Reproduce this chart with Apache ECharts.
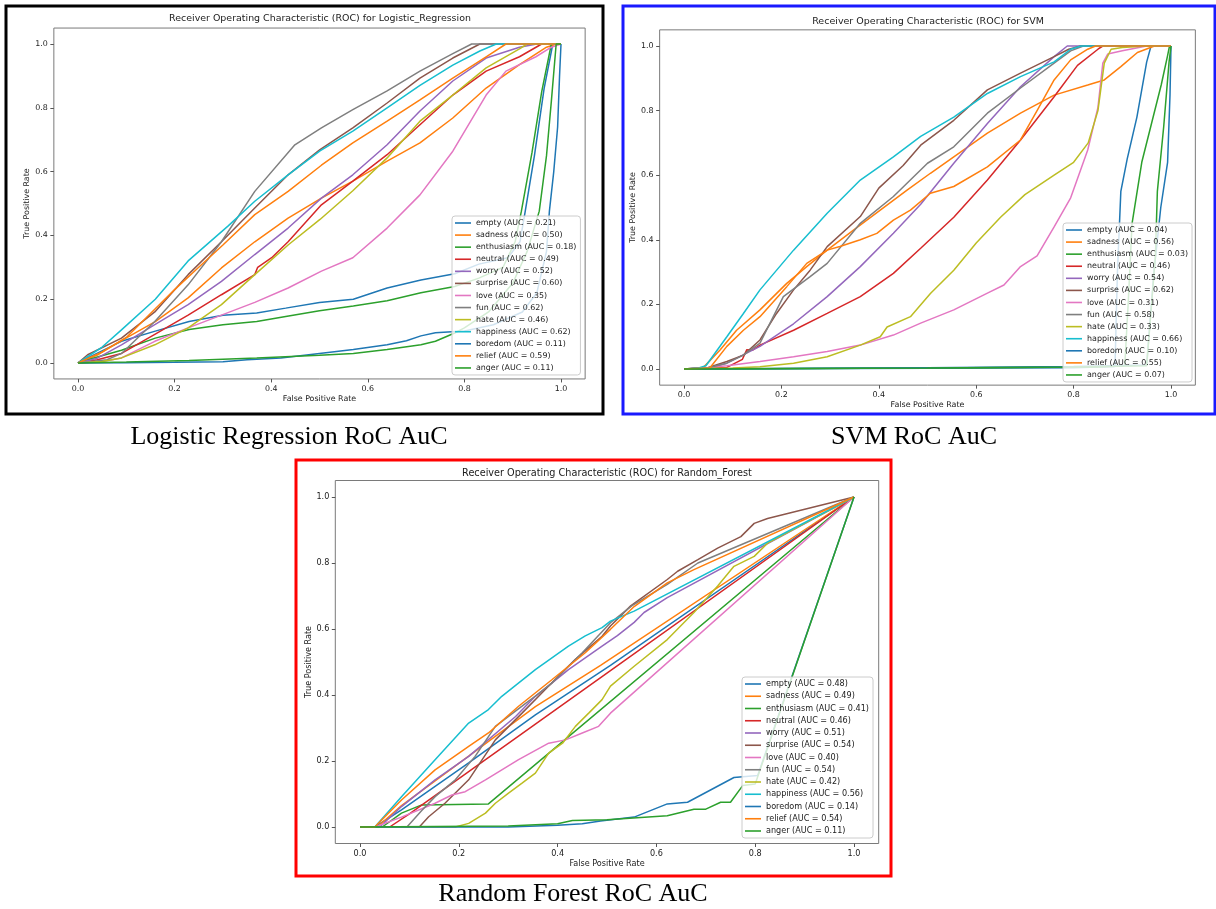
<!DOCTYPE html>
<html><head><meta charset="utf-8">
<script src="https://cdn.jsdelivr.net/npm/echarts@6/dist/echarts.min.js"></script>
<style>html,body{margin:0;padding:0;background:#fff}#c{width:1216px;height:909px}</style>
</head><body><div id="c"></div><script>
const CLASSES = ['empty','sadness','enthusiasm','neutral','worry','surprise','love','fun','hate','happiness','boredom','relief','anger'];
const COLORS = ['#1f77b4','#ff7f0e','#2ca02c','#d62728','#9467bd','#8c564b','#e377c2','#7f7f7f','#bcbd22','#17becf','#1f77b4','#ff7f0e','#2ca02c'];
const LR_AUC = ['0.21','0.50','0.18','0.49','0.52','0.60','0.35','0.62','0.46','0.62','0.11','0.59','0.11'];
const SVM_AUC = ['0.04','0.56','0.03','0.46','0.54','0.62','0.31','0.58','0.33','0.66','0.10','0.55','0.07'];
const RF_AUC = ['0.48','0.49','0.41','0.46','0.51','0.54','0.40','0.54','0.42','0.56','0.14','0.54','0.11'];
const TICKS = [0, 0.2, 0.4, 0.6, 0.8, 1.0];

// Logistic Regression curves [FPR, TPR]
const lr_empty = [[0,0],[0.02,0.016],[0.09,0.068],[0.16,0.1],[0.23,0.13],[0.3,0.15],[0.37,0.157],[0.43,0.172],[0.5,0.19],[0.57,0.2],[0.64,0.235],[0.71,0.26],[0.78,0.28],[0.83,0.31],[0.89,0.33],[0.915,0.38],[0.926,0.476],[0.945,0.65],[0.965,0.86],[0.983,1],[1,1]];
const lr_sadness = [[0,0],[0.04,0.025],[0.09,0.07],[0.16,0.13],[0.228,0.204],[0.297,0.298],[0.366,0.38],[0.435,0.454],[0.504,0.517],[0.569,0.57],[0.64,0.633],[0.708,0.69],[0.776,0.768],[0.845,0.862],[0.914,0.935],[0.97,0.99],[0.99,1],[1,1]];
const lr_enthusiasm = [[0,0],[0.02,0.01],[0.09,0.04],[0.16,0.078],[0.23,0.105],[0.3,0.12],[0.37,0.13],[0.43,0.146],[0.5,0.164],[0.57,0.179],[0.64,0.195],[0.71,0.22],[0.78,0.24],[0.83,0.266],[0.88,0.3],[0.905,0.38],[0.918,0.476],[0.94,0.66],[0.96,0.85],[0.98,1],[1,1]];
const lr_neutral = [[0,0],[0.04,0.01],[0.09,0.03],[0.159,0.09],[0.228,0.15],[0.297,0.214],[0.366,0.277],[0.372,0.3],[0.401,0.33],[0.435,0.38],[0.504,0.496],[0.569,0.57],[0.64,0.653],[0.708,0.747],[0.776,0.84],[0.845,0.915],[0.914,0.96],[0.96,1],[1,1]];
const lr_worry = [[0,0],[0.04,0.015],[0.09,0.057],[0.159,0.12],[0.228,0.183],[0.297,0.256],[0.366,0.34],[0.435,0.423],[0.504,0.517],[0.569,0.59],[0.64,0.684],[0.708,0.79],[0.776,0.884],[0.845,0.956],[0.914,0.99],[0.95,1],[1,1]];
const lr_surprise = [[0,0],[0.02,0.026],[0.09,0.078],[0.159,0.16],[0.228,0.277],[0.297,0.38],[0.366,0.486],[0.435,0.59],[0.501,0.669],[0.569,0.737],[0.64,0.815],[0.708,0.893],[0.776,0.956],[0.832,1],[1,1]];
const lr_love = [[0,0],[0.05,0.005],[0.09,0.016],[0.159,0.068],[0.228,0.11],[0.297,0.15],[0.366,0.19],[0.435,0.235],[0.504,0.288],[0.569,0.33],[0.64,0.423],[0.708,0.527],[0.776,0.664],[0.845,0.84],[0.886,0.915],[0.948,0.96],[0.98,0.99],[1,1]];
const lr_fun = [[0,0],[0.06,0.01],[0.09,0.03],[0.159,0.13],[0.228,0.245],[0.297,0.38],[0.366,0.538],[0.449,0.684],[0.504,0.737],[0.569,0.794],[0.64,0.853],[0.708,0.915],[0.776,0.97],[0.815,1],[1,1]];
const lr_hate = [[0,0],[0.05,0.005],[0.09,0.016],[0.159,0.057],[0.228,0.11],[0.297,0.183],[0.366,0.277],[0.435,0.37],[0.501,0.45],[0.569,0.54],[0.64,0.643],[0.708,0.758],[0.776,0.84],[0.845,0.925],[0.914,0.985],[0.93,1],[1,1]];
const lr_happiness = [[0,0],[0.05,0.05],[0.09,0.104],[0.16,0.2],[0.228,0.32],[0.311,0.43],[0.366,0.507],[0.435,0.59],[0.501,0.665],[0.569,0.727],[0.64,0.8],[0.708,0.87],[0.776,0.934],[0.832,0.978],[0.866,1],[1,1]];
const lr_boredom = [[0,0],[0.1,0.001],[0.2,0.002],[0.3,0.004],[0.35,0.01],[0.42,0.016],[0.5,0.03],[0.57,0.042],[0.64,0.057],[0.68,0.07],[0.71,0.085],[0.74,0.095],[0.8,0.1],[0.86,0.12],[0.92,0.16],[0.95,0.22],[0.97,0.35],[0.976,0.476],[0.985,0.6],[0.993,0.74],[0.997,0.9],[1,1]];
const lr_relief = [[0,0],[0.05,0.035],[0.1,0.08],[0.16,0.17],[0.2,0.23],[0.25,0.3],[0.3,0.37],[0.366,0.465],[0.435,0.538],[0.504,0.62],[0.569,0.69],[0.64,0.758],[0.708,0.825],[0.776,0.893],[0.845,0.96],[0.886,1],[1,1]];
const lr_anger = [[0,0],[0.1,0.003],[0.23,0.008],[0.37,0.016],[0.5,0.024],[0.57,0.03],[0.64,0.042],[0.71,0.057],[0.74,0.068],[0.78,0.094],[0.8,0.11],[0.85,0.16],[0.9,0.25],[0.93,0.35],[0.955,0.476],[0.97,0.65],[0.98,0.82],[0.99,1],[1,1]];

// SVM curves
const svm_empty = [[0,0],[0.5,0.002],[0.8,0.004],[0.885,0.008],[0.89,0.3],[0.897,0.55],[0.91,0.65],[0.93,0.78],[0.95,0.95],[0.959,1],[1,1]];
const svm_sadness = [[0,0],[0.04,0.005],[0.074,0.059],[0.108,0.12],[0.156,0.183],[0.211,0.265],[0.252,0.317],[0.294,0.368],[0.348,0.43],[0.403,0.492],[0.458,0.554],[0.506,0.606],[0.554,0.657],[0.623,0.73],[0.691,0.792],[0.76,0.848],[0.829,0.879],[0.863,0.895],[0.897,0.936],[0.931,0.98],[0.966,1],[1,1]];
const svm_enthusiasm = [[0,0],[0.5,0.003],[0.85,0.006],[0.905,0.01],[0.912,0.2],[0.92,0.45],[0.94,0.64],[0.96,0.76],[0.98,0.88],[0.993,0.97],[0.997,1],[1,1]];
const svm_neutral = [[0,0],[0.088,0.005],[0.12,0.03],[0.129,0.06],[0.14,0.058],[0.156,0.074],[0.225,0.12],[0.294,0.172],[0.362,0.224],[0.43,0.296],[0.486,0.374],[0.554,0.47],[0.623,0.585],[0.691,0.709],[0.76,0.843],[0.808,0.94],[0.85,0.99],[0.86,1],[1,1]];
const svm_worry = [[0,0],[0.05,0.003],[0.088,0.018],[0.156,0.07],[0.225,0.14],[0.294,0.224],[0.362,0.317],[0.43,0.42],[0.486,0.51],[0.554,0.637],[0.623,0.76],[0.691,0.874],[0.76,0.967],[0.787,1],[1,1]];
const svm_surprise = [[0,0],[0.05,0.005],[0.088,0.023],[0.122,0.043],[0.156,0.09],[0.19,0.172],[0.225,0.245],[0.259,0.306],[0.294,0.379],[0.362,0.472],[0.4,0.56],[0.45,0.63],[0.486,0.693],[0.554,0.77],[0.623,0.864],[0.691,0.916],[0.76,0.967],[0.79,0.99],[0.815,1],[1,1]];
const svm_love = [[0,0],[0.05,0.005],[0.088,0.01],[0.156,0.023],[0.225,0.038],[0.294,0.054],[0.362,0.074],[0.43,0.105],[0.486,0.142],[0.554,0.183],[0.623,0.235],[0.657,0.26],[0.691,0.317],[0.725,0.35],[0.76,0.44],[0.794,0.53],[0.829,0.678],[0.85,0.81],[0.86,0.947],[0.87,0.975],[0.9,0.985],[0.95,1],[1,1]];
const svm_fun = [[0,0],[0.05,0.004],[0.088,0.018],[0.122,0.043],[0.156,0.08],[0.204,0.224],[0.259,0.286],[0.294,0.327],[0.362,0.451],[0.43,0.534],[0.5,0.637],[0.554,0.688],[0.623,0.792],[0.691,0.87],[0.76,0.947],[0.794,0.985],[0.82,1],[1,1]];
const svm_hate = [[0,0],[0.1,0.003],[0.156,0.007],[0.225,0.018],[0.294,0.038],[0.362,0.074],[0.403,0.1],[0.417,0.13],[0.465,0.162],[0.506,0.234],[0.554,0.306],[0.6,0.39],[0.65,0.47],[0.7,0.54],[0.76,0.6],[0.8,0.64],[0.83,0.7],[0.85,0.8],[0.863,0.947],[0.877,0.99],[0.9,0.995],[0.95,1],[1,1]];
const svm_happiness = [[0,0],[0.03,0.003],[0.045,0.01],[0.088,0.1],[0.122,0.172],[0.156,0.245],[0.225,0.368],[0.294,0.482],[0.362,0.585],[0.43,0.657],[0.486,0.72],[0.554,0.78],[0.623,0.853],[0.691,0.905],[0.76,0.951],[0.794,0.99],[0.815,1],[1,1]];
const svm_boredom = [[0,0],[0.5,0.004],[0.8,0.008],[0.95,0.012],[0.965,0.3],[0.979,0.5],[0.993,0.64],[0.998,0.85],[1,1]];
const svm_relief = [[0,0],[0.053,0.003],[0.088,0.07],[0.122,0.12],[0.156,0.162],[0.211,0.255],[0.252,0.327],[0.294,0.368],[0.32,0.379],[0.362,0.4],[0.396,0.42],[0.43,0.461],[0.465,0.492],[0.506,0.544],[0.554,0.565],[0.623,0.626],[0.691,0.709],[0.725,0.8],[0.76,0.895],[0.794,0.957],[0.829,0.99],[0.845,1],[1,1]];
const svm_anger = [[0,0],[0.5,0.003],[0.8,0.006],[0.95,0.01],[0.968,0.35],[0.972,0.55],[0.985,0.75],[0.996,0.95],[1,1]];

// Random Forest curves
const rf_empty = [[0,0],[0.03,0],[0.084,0.052],[0.22,0.194],[0.355,0.34],[0.507,0.49],[1,1]];
const rf_sadness = [[0,0],[0.035,0],[0.084,0.065],[0.22,0.215],[0.355,0.365],[0.487,0.49],[1,1]];
const rf_enthusiasm = [[0,0],[0.045,0],[0.084,0.042],[0.125,0.067],[0.26,0.07],[1,1]];
const rf_neutral = [[0,0],[0.06,0],[0.1,0.04],[0.22,0.168],[0.355,0.312],[0.507,0.474],[1,1]];
const rf_worry = [[0,0],[0.04,0],[0.084,0.062],[0.152,0.143],[0.22,0.214],[0.315,0.335],[0.355,0.396],[0.422,0.477],[0.49,0.548],[0.521,0.58],[0.555,0.62],[0.575,0.65],[0.622,0.695],[1,1]];
const rf_surprise = [[0,0],[0.12,0],[0.139,0.031],[0.172,0.072],[0.22,0.143],[0.274,0.264],[0.328,0.345],[0.382,0.427],[0.436,0.508],[0.49,0.578],[0.507,0.609],[0.548,0.67],[0.622,0.75],[0.643,0.775],[0.684,0.81],[0.724,0.845],[0.771,0.88],[0.798,0.92],[0.825,0.935],[1,1]];
const rf_love = [[0,0],[0.03,0],[0.084,0.03],[0.152,0.072],[0.186,0.097],[0.213,0.107],[0.254,0.143],[0.321,0.204],[0.382,0.254],[0.416,0.264],[0.45,0.285],[0.483,0.305],[0.507,0.345],[1,1]];
const rf_fun = [[0,0],[0.095,0],[0.125,0.05],[0.152,0.092],[0.193,0.143],[0.233,0.214],[0.274,0.305],[0.328,0.366],[0.355,0.397],[0.389,0.437],[0.422,0.487],[0.45,0.528],[0.507,0.619],[0.55,0.67],[0.622,0.735],[0.684,0.8],[1,1]];
const rf_hate = [[0,0],[0.193,0],[0.22,0.011],[0.254,0.042],[0.274,0.072],[0.3,0.102],[0.328,0.133],[0.355,0.163],[0.382,0.224],[0.41,0.254],[0.436,0.305],[0.463,0.345],[0.49,0.386],[0.507,0.427],[0.555,0.487],[0.622,0.568],[0.676,0.65],[0.724,0.73],[0.757,0.79],[0.798,0.82],[0.825,0.86],[1,1]];
const rf_happiness = [[0,0],[0.03,0],[0.084,0.092],[0.152,0.204],[0.22,0.315],[0.26,0.356],[0.287,0.396],[0.355,0.477],[0.422,0.548],[0.456,0.579],[0.49,0.604],[0.507,0.624],[0.555,0.654],[1,1]];
const rf_boredom = [[0,0],[0.3,0],[0.4,0.005],[0.45,0.01],[0.487,0.018],[0.555,0.03],[0.622,0.07],[0.663,0.075],[0.757,0.15],[0.805,0.156],[1,1]];
const rf_relief = [[0,0],[0.03,0],[0.084,0.082],[0.152,0.173],[0.22,0.244],[0.26,0.285],[0.321,0.366],[0.389,0.447],[0.456,0.528],[0.507,0.599],[0.555,0.668],[0.622,0.74],[0.676,0.78],[1,1]];
const rf_anger = [[0,0],[0.3,0.003],[0.4,0.01],[0.43,0.02],[0.5,0.022],[0.622,0.034],[0.676,0.054],[0.7,0.054],[0.73,0.075],[0.75,0.075],[0.775,0.126],[0.8,0.13],[1,1]];

const LR_CURVES = [lr_empty, lr_sadness, lr_enthusiasm, lr_neutral, lr_worry, lr_surprise, lr_love, lr_fun, lr_hate, lr_happiness, lr_boredom, lr_relief, lr_anger];
const SVM_CURVES = [svm_empty, svm_sadness, svm_enthusiasm, svm_neutral, svm_worry, svm_surprise, svm_love, svm_fun, svm_hate, svm_happiness, svm_boredom, svm_relief, svm_anger];
const RF_CURVES = [rf_empty, rf_sadness, rf_enthusiasm, rf_neutral, rf_worry, rf_surprise, rf_love, rf_fun, rf_hate, rf_happiness, rf_boredom, rf_relief, rf_anger];

const TITLES = ['Receiver Operating Characteristic (ROC) for Logistic_Regression','Receiver Operating Characteristic (ROC) for SVM','Receiver Operating Characteristic (ROC) for Random_Forest'];
const CAPTIONS = ['Logistic Regression RoC AuC','SVM RoC AuC','Random Forest RoC AuC'];

const FONT = '"DejaVu Sans", Verdana, sans-serif';
const TXT = '#1a1a1a';
const LAYOUT = [
  {grid:{left:53.85,top:28.05,width:531.3,height:350.9}, title:{x:320,y:14}, legend:{left:452,top:216,gap:4.08}, fs:7.9, tfs:9.45, border:{x:6,y:6,w:597,h:408,c:'#000000'}, cap:{x:289,y:437}},
  {grid:{left:659.65,top:29.85,width:535.7,height:355.3}, title:{x:928,y:17}, legend:{left:1063,top:223,gap:4.08}, fs:7.95, tfs:9.5, border:{x:623,y:6,w:592,h:408,c:'#1a1aff'}, cap:{x:914,y:437}},
  {grid:{left:335.3,top:480.5,width:543.4,height:363}, title:{x:607,y:468.5}, legend:{left:742,top:677,gap:4.25}, fs:8.1, tfs:9.7, border:{x:296,y:460,w:595,h:416,c:'#ff0000'}, cap:{x:573,y:894}}
];
const AUCS = [LR_AUC, SVM_AUC, RF_AUC];
const CURVES = [LR_CURVES, SVM_CURVES, RF_CURVES];

const grids=[], xAxes=[], yAxes=[], titles=[], legends=[], series=[], graphics=[];
LAYOUT.forEach((L, p) => {
  grids.push(Object.assign({show:true, borderColor:'#7a7a7a', borderWidth:1, backgroundColor:'rgba(0,0,0,0)', containLabel:false, outerBoundsMode:'none'}, L.grid));
  const axisCommon = (name, gap) => ({
    type:'value', gridIndex:p, min:-0.05, max:1.05,
    axisLine:{show:false, onZero:false},
    axisTick:{show:true, customValues:TICKS, length:3.5, lineStyle:{color:'#555', width:1}},
    axisLabel:{customValues:TICKS, formatter:v=>v.toFixed(1), fontSize:L.fs, fontFamily:FONT, color:TXT, margin:6},
    splitLine:{show:false},
    name, nameLocation:'middle', nameGap:gap,
    nameTextStyle:{fontSize:L.fs, fontFamily:FONT, color:TXT}
  });
  xAxes.push(axisCommon('False Positive Rate', 16));
  yAxes.push(axisCommon('True Positive Rate', 22));
  titles.push({text:TITLES[p], left:L.title.x, top:L.title.y, textAlign:'center', padding:0,
    textStyle:{fontSize:L.tfs, fontWeight:'normal', fontFamily:FONT, color:TXT}});
  const names = CLASSES.map((c,k)=>`${c} (AUC = ${AUCS[p][k]})`);
  legends.push({show:true, orient:'vertical', left:L.legend.left, top:L.legend.top, padding:[3,4,3,3],
    icon:'rect', itemWidth:16, itemHeight:1.6, itemGap:L.legend.gap, selectedMode:false,
    backgroundColor:'rgba(255,255,255,0.8)', borderColor:'#cccccc', borderWidth:1, borderRadius:3,
    textStyle:{fontSize:L.fs, fontFamily:FONT, color:TXT, lineHeight:8}, data:names});
  CURVES[p].forEach((d,k)=>{
    series.push({type:'line', name:names[k], xAxisIndex:p, yAxisIndex:p, data:d, symbol:'none', showSymbol:false,
      lineStyle:{width:1.5, color:COLORS[k]}, itemStyle:{color:COLORS[k]}, emphasis:{disabled:true}, animation:false});
  });
  graphics.push({type:'rect', silent:true, shape:{x:L.border.x, y:L.border.y, width:L.border.w, height:L.border.h},
    style:{fill:'rgba(0,0,0,0)', stroke:L.border.c, lineWidth:3}});
  graphics.push({type:'text', silent:true, x:L.cap.x, y:L.cap.y,
    style:{text:CAPTIONS[p], font:'26px "Liberation Serif", "Times New Roman", serif', fill:'#000', textAlign:'center', textVerticalAlign:'middle', align:'center', verticalAlign:'middle'}});
});

const chart = echarts.init(document.getElementById('c'), null, {renderer:'canvas'});
chart.setOption({
  backgroundColor:'#ffffff', animation:false,
  title:titles, legend:legends, grid:grids, xAxis:xAxes, yAxis:yAxes, series, graphic:graphics,
  tooltip:{show:false}
});
</script></body></html>
